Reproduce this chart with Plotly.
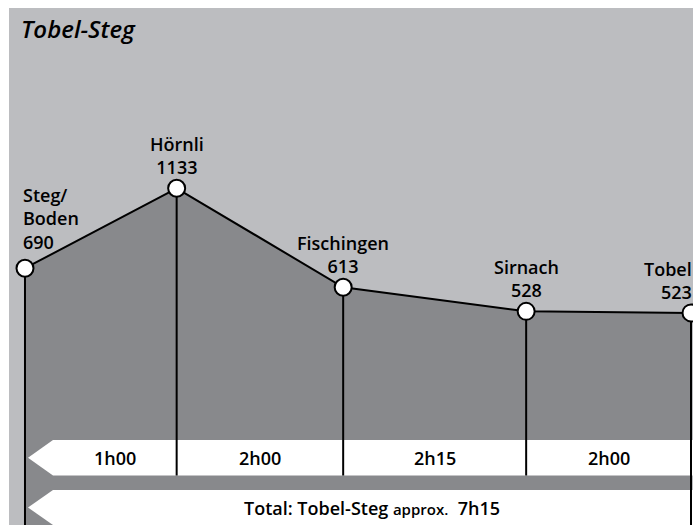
import math
import plotly.graph_objects as go

# ---------------- data ----------------
route_name = "Tobel-Steg"
stations = ["Steg/Boden", "Hörnli", "Fischingen", "Sirnach", "Tobel"]
elevation_m = [690, 1133, 613, 528, 523]
distance_km = [0.0, 4.6, 9.65, 15.2, 20.2]
segment_times = ["1h00", "2h00", "2h15", "2h00"]
total_label = "Total: Tobel-Steg"
total_time = "7h15"

# ---------------- layout constants (window pixels) ----------------
W, H = 693, 525
M_L, M_T = 9, 8               # plot area origin
PLOT_W, PLOT_H = W - M_L, H - M_T
X_RANGE = [-0.485, 20.26]
Y_RANGE = [2.147, 3.540]      # log10 of metres

LIGHT = "#BCBDC0"
DARK = "#88898C"
FONT = "Open Sans"
WEIGHT = 600


def px2x(px):
    return X_RANGE[0] + (px - M_L) / PLOT_W * (X_RANGE[1] - X_RANGE[0])


def py2y(py):
    return 10 ** (Y_RANGE[1] - (py - M_T) / PLOT_H * (Y_RANGE[1] - Y_RANGE[0]))


def py2paper(py):
    return (H - py) / PLOT_H


def px2paper(px):
    return (px - M_L) / PLOT_W


fig = go.Figure()

# dark area under the profile
bottom = py2y(H + 5)
fig.add_trace(go.Scatter(
    x=[distance_km[0]] + distance_km + [distance_km[-1]],
    y=[bottom] + elevation_m + [bottom],
    fill="toself", fillcolor=DARK, mode="lines", line=dict(width=0),
    hoverinfo="skip"))


# white arrow bands
def band(top, bot):
    mid = (top + bot) / 2
    xs = [px2x(28), px2x(53), px2x(W + 10), px2x(W + 10), px2x(53), px2x(28)]
    ys = [py2y(mid), py2y(top), py2y(top), py2y(bot), py2y(bot), py2y(mid)]
    return go.Scatter(x=xs, y=ys, fill="toself", fillcolor="white", mode="lines",
                      line=dict(width=0), hoverinfo="skip")


B1 = (440, 475.5)
B2 = (490, 525)
fig.add_trace(band(*B1))
fig.add_trace(band(*B2))

# vertical station lines
vx, vy = [], []
for i, (d, e) in enumerate(zip(distance_km, elevation_m)):
    end = py2y(H + 5) if i in (0, len(distance_km) - 1) else py2y(B1[1])
    vx += [d, d, None]
    vy += [e, end, None]
fig.add_trace(go.Scatter(x=vx, y=vy, mode="lines", line=dict(color="black", width=2),
                         hoverinfo="skip"))

# profile
fig.add_trace(go.Scatter(
    x=distance_km, y=elevation_m, mode="lines+markers",
    line=dict(color="black", width=2),
    marker=dict(size=17, color="white", line=dict(color="black", width=2)),
    hoverinfo="skip"))

annotations = []
lab_font = dict(family=FONT, size=18, color="black", weight=WEIGHT)

# station labels
for i, (name, d, e) in enumerate(zip(stations, distance_km, elevation_m)):
    txt = name.replace("/", "/<br>") + "<br>" + str(e)
    if i == 0:
        xa, align, xs, ys = "left", "left", -4, 12
    elif i == len(stations) - 1:
        xa, align, xs, ys = "right", "right", 3, 7
    else:
        xa, align, xs, ys = "center", "center", 0, 7
    annotations.append(dict(x=d, y=math.log10(e), xref="x", yref="y", yanchor="bottom",
                            xanchor=xa, align=align, text=txt, showarrow=False,
                            xshift=xs, yshift=ys, font=lab_font))

# segment times
body_left = px2x(53)
for i, t in enumerate(segment_times):
    left = max(distance_km[i], body_left)
    annotations.append(dict(x=(left + distance_km[i + 1]) / 2, y=py2paper(sum(B1) / 2),
                            xref="x", yref="paper", text=t, showarrow=False,
                            xanchor="center", yanchor="middle", font=lab_font))

annotations.append(dict(
    x=(body_left + distance_km[-1]) / 2, y=py2paper(sum(B2) / 2),
    xref="x", yref="paper", showarrow=False, xanchor="center", yanchor="middle",
    text=f"{total_label} <span style='font-size:15px'>approx.</span>  {total_time}",
    font=dict(family=FONT, size=18, color="black", weight=WEIGHT)))

# title
annotations.append(dict(
    x=px2paper(19), y=py2paper(10), xref="paper", yref="paper", xanchor="left",
    yanchor="top", showarrow=False, text=f"<i>{route_name}</i>",
    font=dict(family=FONT, size=24, color="black", weight=WEIGHT)))

fig.update_layout(
    width=W, height=H,
    margin=dict(l=M_L, r=0, t=M_T, b=0, pad=0, autoexpand=False),
    paper_bgcolor="white", plot_bgcolor=LIGHT,
    showlegend=False,
    xaxis=dict(range=X_RANGE, visible=False, fixedrange=True),
    yaxis=dict(type="log", range=Y_RANGE, visible=False, fixedrange=True),
    annotations=annotations,
)

fig.write_html(
    "out.html",
    config={"displayModeBar": False},
    post_script="document.body.style.margin='0';document.body.style.overflow='hidden';",
)
